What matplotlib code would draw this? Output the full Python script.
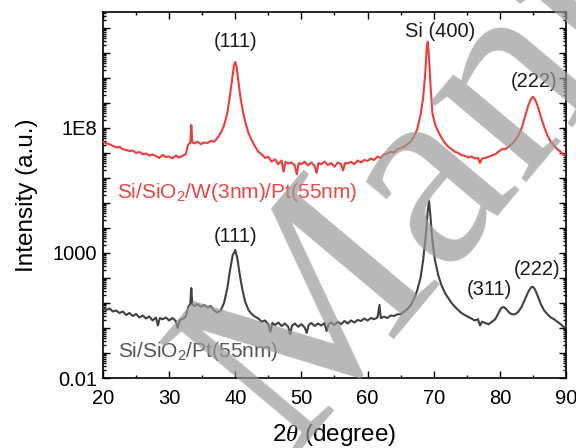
import numpy as np
import matplotlib
matplotlib.use("Agg")
import matplotlib.pyplot as plt
from matplotlib.ticker import LogLocator, FuncFormatter, MultipleLocator, NullFormatter

plt.rcParams['font.family'] = ['Liberation Sans', 'DejaVu Sans']
plt.rcParams['mathtext.fontset'] = 'custom'
plt.rcParams['mathtext.rm'] = 'Liberation Sans'
plt.rcParams['mathtext.it'] = 'Liberation Serif:italic'
plt.rcParams['mathtext.sf'] = 'Liberation Sans'

# ---- data (2theta in degrees, intensity as log10 of a.u.) ----
red_x = [20.0, 20.5, 21.0, 21.5, 22.0, 22.5, 23.0, 23.5, 24.0, 24.5, 25.0, 25.5, 26.0, 26.5,
         27.0, 27.5, 28.0, 28.5, 29.0, 29.5, 30.0, 30.5, 31.0, 31.5, 32.0, 32.5, 32.9, 33.2,
         33.35, 33.5, 33.8, 34.3, 34.8, 35.3, 35.8, 36.3, 36.8, 37.3, 37.8, 38.3, 38.8, 39.2,
         39.5, 39.8, 40.0, 40.2, 40.5, 40.8, 41.2, 41.6, 42.0, 42.5, 43.0, 43.5, 44.0, 44.5,
         45.0, 45.5, 46.0, 46.5, 47.0, 47.3, 47.6, 48.0, 48.5, 49.0, 49.3, 49.6, 50.0, 50.5,
         51.0, 51.5, 52.0, 52.3, 52.6, 53.0, 53.5, 54.0, 54.5, 55.0, 55.5, 56.0, 56.3, 56.6,
         57.0, 57.5, 58.0, 58.5, 59.0, 59.5, 60.0, 60.5, 61.0, 61.5, 62.0, 62.5, 63.0, 63.5,
         64.0, 64.5, 65.0, 65.5, 66.0, 66.5, 67.0, 67.5, 68.0, 68.4, 68.7, 68.95, 69.1, 69.25,
         69.5, 69.8, 70.2, 70.7, 71.2, 71.7, 72.2, 72.7, 73.2, 73.7, 74.2, 74.7, 75.2, 75.7,
         76.2, 76.7, 77.0, 77.3, 77.8, 78.3, 78.8, 79.3, 79.8, 80.3, 80.8, 81.3, 81.8, 82.3,
         82.8, 83.3, 83.8, 84.3, 84.7, 85.0, 85.3, 85.7, 86.2, 86.7, 87.2, 87.7, 88.2, 88.7,
         89.2, 89.6, 90.0]
red_log = [7.45, 7.38, 7.35, 7.28, 7.22, 7.25, 7.15, 7.12, 7.08, 7.10, 7.00, 7.04, 6.95, 6.98,
           6.90, 6.94, 6.88, 6.80, 6.92, 6.84, 6.86, 6.78, 6.90, 6.82, 6.88, 6.95, 7.35, 7.40,
           8.12, 7.45, 7.38, 7.45, 7.35, 7.42, 7.40, 7.48, 7.45, 7.60, 7.80, 8.10, 8.60, 9.30,
           9.90, 10.50, 10.64, 10.45, 9.80, 9.20, 8.60, 8.15, 7.80, 7.50, 7.25, 7.05, 6.95, 6.80,
           6.85, 6.65, 6.75, 6.55, 6.70, 6.25, 6.65, 6.58, 6.62, 6.50, 6.15, 6.60, 6.55, 6.65,
           6.50, 6.62, 6.48, 6.20, 6.60, 6.55, 6.65, 6.52, 6.60, 6.45, 6.62, 6.55, 6.30, 6.60,
           6.58, 6.65, 6.55, 6.70, 6.62, 6.72, 6.68, 6.78, 6.72, 6.85, 6.80, 6.95, 6.98, 7.05,
           7.02, 7.15, 7.20, 7.25, 7.35, 7.45, 7.65, 7.95, 8.50, 9.20, 10.10, 11.20, 11.45, 11.00,
           9.80, 8.60, 8.15, 7.85, 7.60, 7.40, 7.25, 7.15, 7.05, 7.00, 6.92, 6.88, 6.82, 6.86,
           6.78, 6.80, 6.60, 6.78, 6.80, 6.85, 6.90, 6.95, 7.05, 7.15, 7.15, 7.25, 7.35, 7.50,
           7.70, 8.00, 8.45, 8.90, 9.15, 9.25, 9.15, 8.90, 8.45, 8.05, 7.70, 7.45, 7.30, 7.15,
           7.05, 6.92, 6.95]

gray_x = [20.0, 20.5, 21.0, 21.5, 22.0, 22.5, 23.0, 23.5, 24.0, 24.5, 25.0, 25.5, 26.0, 26.5,
          27.0, 27.5, 28.0, 28.3, 28.6, 29.0, 29.5, 30.0, 30.5, 31.0, 31.3, 31.6, 32.0, 32.5,
          32.9, 33.2, 33.35, 33.5, 33.8, 34.3, 34.8, 35.3, 35.8, 36.3, 36.8, 37.3, 37.8, 38.3,
          38.8, 39.2, 39.6, 40.0, 40.3, 40.7, 41.1, 41.5, 42.0, 42.5, 43.0, 43.5, 44.0, 44.5,
          45.0, 45.3, 45.6, 46.0, 46.5, 47.0, 47.5, 48.0, 48.3, 48.6, 49.0, 49.5, 50.0, 50.5,
          50.8, 51.1, 51.5, 52.0, 52.5, 53.0, 53.5, 53.8, 54.1, 54.5, 55.0, 55.5, 56.0, 56.5,
          57.0, 57.5, 58.0, 58.5, 59.0, 59.5, 60.0, 60.5, 61.0, 61.5, 61.8, 62.0, 62.5, 63.0,
          63.5, 64.0, 64.5, 65.0, 65.5, 66.0, 66.5, 67.0, 67.5, 68.0, 68.4, 68.8, 69.1, 69.3,
          69.5, 69.8, 70.2, 70.7, 71.2, 71.7, 72.2, 72.7, 73.2, 73.7, 74.2, 74.7, 75.2, 75.7,
          76.2, 76.7, 77.0, 77.3, 77.8, 78.3, 78.8, 79.3, 79.8, 80.2, 80.6, 81.0, 81.4, 81.8,
          82.3, 82.8, 83.3, 83.8, 84.3, 84.7, 85.0, 85.3, 85.7, 86.2, 86.7, 87.2, 87.7, 88.2,
          88.7, 89.2, 89.6, 90.0]
gray_log = [0.80, 0.72, 0.78, 0.66, 0.70, 0.60, 0.66, 0.52, 0.60, 0.48, 0.56, 0.42, 0.50, 0.38,
            0.46, 0.30, 0.42, 0.10, 0.40, 0.35, 0.42, 0.30, 0.40, 0.28, 0.00, 0.32, 0.36, 0.45,
            0.85, 0.95, 1.60, 0.95, 0.88, 0.95, 0.85, 0.92, 0.82, 0.88, 0.70, 0.62, 0.70, 1.00,
            1.60, 2.30, 2.90, 3.12, 2.80, 2.10, 1.50, 1.05, 0.72, 0.55, 0.45, 0.38, 0.25, 0.30,
            0.15, -0.15, 0.20, 0.12, 0.22, 0.08, 0.18, 0.05, -0.25, 0.10, 0.18, 0.05, 0.15, 0.02,
            -0.20, 0.12, 0.20, 0.08, 0.18, 0.10, 0.20, -0.12, 0.15, 0.22, 0.12, 0.25, 0.15, 0.28,
            0.18, 0.30, 0.22, 0.32, 0.28, 0.38, 0.30, 0.40, 0.35, 0.42, 0.92, 0.40, 0.45, 0.40,
            0.50, 0.48, 0.55, 0.55, 0.65, 0.75, 0.90, 1.15, 1.50, 2.00, 2.70, 3.70, 4.70, 5.08,
            4.50, 3.50, 2.70, 2.10, 1.70, 1.40, 1.20, 1.00, 0.85, 0.72, 0.60, 0.52, 0.45, 0.38,
            0.30, 0.35, 0.10, 0.25, 0.20, 0.15, 0.25, 0.35, 0.60, 0.80, 0.84, 0.75, 0.62, 0.55,
            0.55, 0.65, 0.85, 1.15, 1.45, 1.62, 1.65, 1.55, 1.30, 0.95, 0.70, 0.55, 0.42, 0.35,
            0.25, 0.15, 0.05, 0.00]

red_label = r'Si/SiO$_2$/W(3nm)/Pt(55nm)'
gray_label = r'Si/SiO$_2$/Pt(55nm)'
red_peaks = [("(111)", 40.1, 11.44), ("Si (400)", 70.9, 11.86), ("(222)", 85.2, 9.84)]
gray_peaks = [("(111)", 40.1, 3.64), ("(311)", 78.4, 1.52), ("(222)", 85.6, 2.32)]
ytick_labels = {-2: "0.01", 3: "1000", 8: "1E8"}

RED = '#EE3B3B'
GRAY = '#404040'

fig = plt.figure(figsize=(5.76, 4.48), dpi=100)
ax = fig.add_axes([0.1788, 0.15625, 0.8038, 0.8170])

ax.plot(red_x, 10 ** np.array(red_log), color=RED, lw=1.5, zorder=3)
ax.plot(gray_x, 10 ** np.array(gray_log), color=GRAY, lw=1.5, zorder=3)

ax.set_yscale('log')
ax.set_xlim(20, 90)
ax.set_ylim(1e-2, 10 ** 12.64)

ax.xaxis.set_major_locator(MultipleLocator(10))
ax.xaxis.set_minor_locator(MultipleLocator(5))
ax.yaxis.set_major_locator(LogLocator(base=10, numticks=40))
ax.yaxis.set_minor_locator(LogLocator(base=10, subs=np.arange(2, 10), numticks=40))
ax.yaxis.set_minor_formatter(NullFormatter())

def yfmt(v, pos):
    e = int(round(np.log10(v)))
    return ytick_labels.get(e, "")

ax.yaxis.set_major_formatter(FuncFormatter(yfmt))

ax.tick_params(which='both', direction='in', top=True, right=True, width=1.0)
ax.tick_params(which='major', length=5, labelsize=14.5)
ax.tick_params(which='minor', length=2.5)
ax.tick_params(axis='x', which='major', pad=8)
ax.tick_params(axis='y', which='major', pad=4)
for s in ax.spines.values():
    s.set_linewidth(1.2)

ax.set_ylabel('Intensity (a.u.)', fontsize=17.5, labelpad=11)
ax.set_xlabel(r'2$\theta$ (degree)', fontsize=17.5, labelpad=10)

for txt, x, ly in red_peaks:
    ax.text(x, 10 ** ly, txt, ha='center', va='center', fontsize=14.5, color='#1a1a1a', zorder=4)
for txt, x, ly in gray_peaks:
    ax.text(x, 10 ** ly, txt, ha='center', va='center', fontsize=14.5, color='#1a1a1a', zorder=4)

ax.text(22.1, 10 ** 5.4, red_label, ha='left', va='center', fontsize=15, color='#EE4444', zorder=4)
ax.text(22.2, 10 ** -0.96, gray_label, ha='left', va='center', fontsize=15, color='#555555', zorder=4)

# watermark
fig.text(0.50, -0.02, 'Manuscript', rotation=50, rotation_mode='anchor', ha='left', va='baseline',
         fontsize=195, family='Liberation Serif', color='#9a9a9a', alpha=0.7, zorder=10)

fig.savefig('out.png', dpi=100)
